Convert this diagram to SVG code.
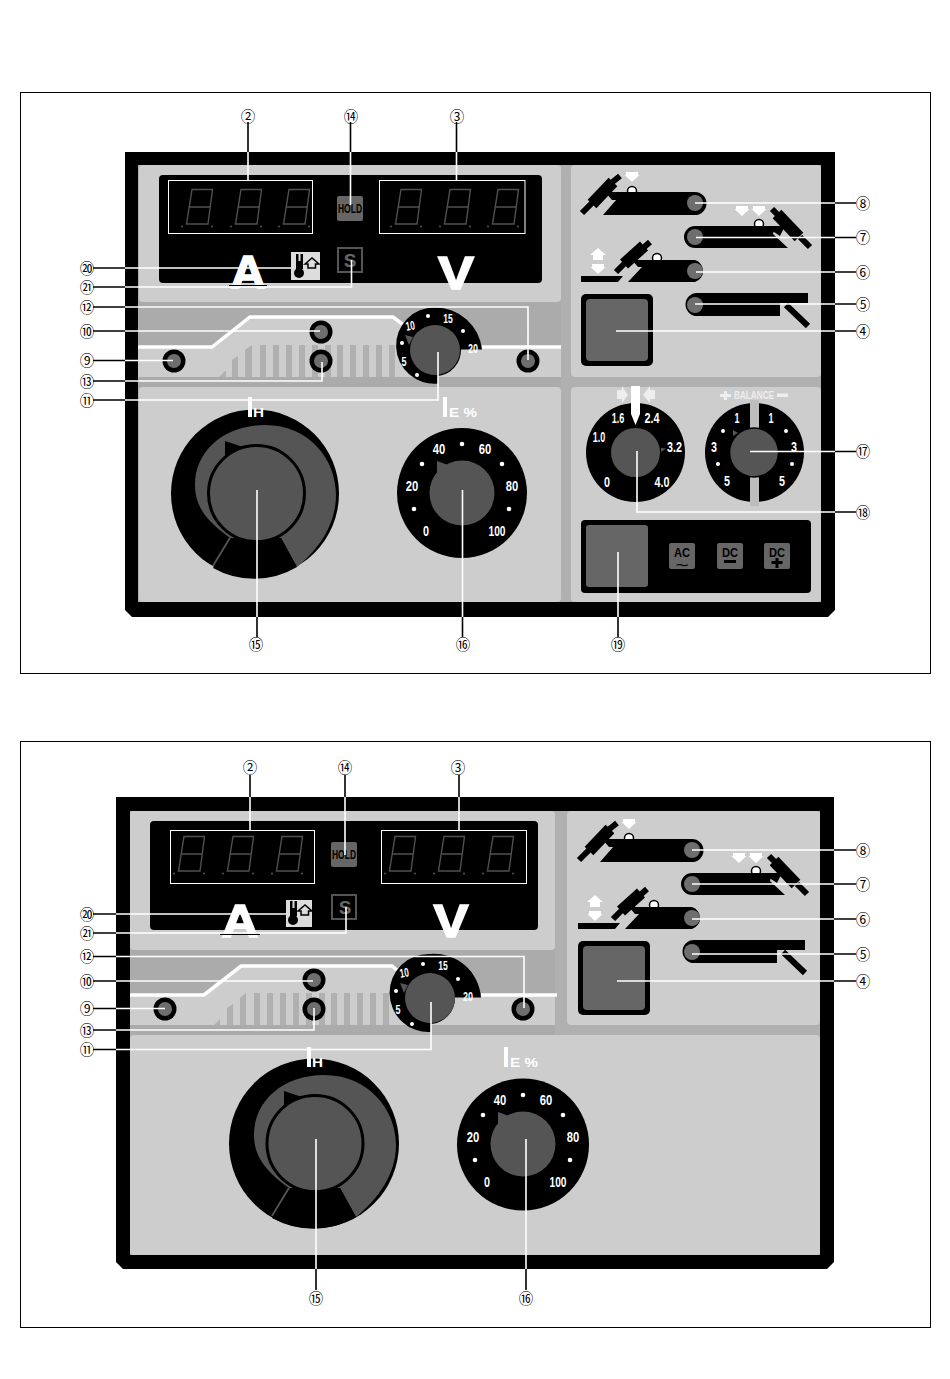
<svg xmlns="http://www.w3.org/2000/svg" xmlns:xlink="http://www.w3.org/1999/xlink" width="950" height="1379" viewBox="0 0 950 1379">
<style>
.frame{fill:none;stroke:#000;stroke-width:1}
.body{fill:#000}
.bg{fill:#b0b0b0}
.pan{fill:#cdcdcd}
.strip{fill:#ababab}
.bar{fill:#b0b0b0}
.wl{fill:none;stroke:#fff;stroke-width:3.5}
.wr{fill:#fff;stroke:none}
.dk{fill:#000}
.kn{fill:#555}
.btn{fill:#666}
.lamp{fill:#6e6e6e}
.dot{fill:#fff}
.w{stroke:#fff;stroke-width:1.6;fill:none}
.b{stroke:#000;stroke-width:1.6;fill:none}
.lab{font-family:"Noto Sans CJK JP","DejaVu Sans",sans-serif;font-size:14.5px;fill:#000;text-anchor:middle}
.d1{font-family:"Liberation Sans",sans-serif;font-weight:700;font-size:12.5px;fill:#fff;text-anchor:middle}
.d2{font-family:"Liberation Sans",sans-serif;font-weight:700;font-size:14px;fill:#fff;text-anchor:middle}
.big{font-family:"Liberation Sans",sans-serif;font-weight:700;font-size:47px;fill:#fff;stroke:#fff;stroke-width:1.6;text-anchor:middle}
.hold{font-family:"Liberation Sans",sans-serif;font-weight:700;font-size:13px;fill:#000;text-anchor:middle}
.s{font-family:"Liberation Sans",sans-serif;font-weight:700;font-size:19px;fill:#666;text-anchor:middle}
.mode{font-family:"Liberation Sans",sans-serif;font-weight:700;font-size:13.500px;fill:#000;text-anchor:middle}
.tld{font-family:"Liberation Sans",sans-serif;font-weight:700;font-size:11px;fill:#000;text-anchor:middle}
.ts{font-family:"Liberation Sans",sans-serif;font-weight:700;font-size:13px;fill:#fff}
.bal{font-family:"Liberation Sans",sans-serif;font-weight:700;font-size:11px;fill:#eee}
.dg{fill:none;stroke:#505050;stroke-width:1.4}
.box{fill:none;stroke:#fff;stroke-width:1}
.hair{stroke:#000;stroke-width:1;fill:none}
</style>
<defs>
<g id="digit"><path class="dg" d="M7,.5H27.5L23,35H1.5ZM4.500,18H25"/><circle cx="-3" cy="37.500" r="1" fill="#555"/><circle cx="27" cy="37.500" r="1" fill="#555"/></g>
<g id="tor-8">
<path class="dk" d="M613,192H695A11.500,11.500 0 0 1 695,215H603L617,199Z"/>
<path class="b" style="stroke-width:6" d="M582,213L593,202M610,184L620,176"/>
<path class="b" style="stroke-width:12" d="M592,204L613,182"/>
<path class="dk" d="M605,192H620V200H612Z"/>
</g>
<g id="tor-7">
<path class="dk" d="M695,226H775L773,234L788,248H695A11,11 0 0 1 695,226Z"/>
<path class="b" style="stroke-width:6" d="M810,247L800,237M779,216L772,209"/>
<path class="b" style="stroke-width:12" d="M799,237L777,214"/>
<path class="dk" d="M765,226H785L780,236Z"/>
</g>
<g id="tor-6">
<path class="dk" d="M640,260H695A11.500,11.500 0 0 1 695,282H628L642,267Z"/>
<path class="b" style="stroke-width:6" d="M616,272L626,262M642,249L650,242"/>
<path class="b" style="stroke-width:12" d="M624,264L644,246"/>
<path class="dk" d="M632,260H645V267H638ZM581,276H623L618,282H581Z"/>
</g>
<g id="tor-5">
<path class="dk" d="M697,293H808V303H780V316H697A11.500,11.500 0 0 1 697,293Z"/>
<path class="b" style="stroke-width:6" d="M786,305L808,326"/>
</g>
<path id="ar" d="M-6,0H6V3H7.500L0,10L-7.500,3H-6Z" fill="#fff"/>
</defs>

<rect class="frame" x="20.500" y="92.500" width="910" height="581"/>
<rect class="frame" x="20.500" y="741.500" width="910" height="586"/>

<g id="panel-top">
<path class="body" d="M125,152H835V610L828,617H132L125,610Z"/>
<rect class="bg" x="138" y="165" width="683" height="437"/>
<rect class="pan" x="139" y="165" width="422" height="137" rx="4"/>
<rect class="pan" x="571" y="165" width="250" height="212" rx="4"/>
<rect class="pan" x="139" y="387" width="422" height="215" rx="4"/>
<rect class="pan" x="571" y="387" width="250" height="215" rx="4"/>
<rect class="strip" x="138" y="302" width="423" height="85"/>
<path class="pan" d="M138,347H212L250,317H395L420,340V347H561V377H138Z"/>
<path class="bar" d="M219,377L226,370V377ZM232,377V360L238,356V377ZM245,377V350L252,345V377ZM260,345H266V377H260ZM273,345H279V377H273ZM286,345H292V377H286ZM299,345H305V377H299ZM312,345H318V377H312ZM325,345H331V377H325ZM337,345H343V377H337ZM350,345H356V377H350ZM363,345H369V377H363ZM376,345H382V377H376ZM389,345H395V377H389Z"/>
<path class="wl" d="M138,347H212L250,317H393L405,326M482,347H561"/>
</g>

<g id="display-top">
<rect class="dk" x="159" y="175" width="383" height="108" rx="4"/>
<rect class="box" x="168.500" y="180.500" width="144" height="53"/>
<rect class="box" x="379.500" y="180.500" width="145.500" height="53"/>
<use xlink:href="#digit" href="#digit" x="185" y="189"/><use xlink:href="#digit" href="#digit" x="234" y="189"/><use xlink:href="#digit" href="#digit" x="282" y="189"/>
<use xlink:href="#digit" href="#digit" x="394" y="189"/><use xlink:href="#digit" href="#digit" x="443" y="189"/><use xlink:href="#digit" href="#digit" x="491" y="189"/>
<text class="big" x="248" y="288" textLength="35" lengthAdjust="spacingAndGlyphs">A</text>
<text class="big" x="456" y="289" textLength="36" lengthAdjust="spacingAndGlyphs">V</text>
<path class="hair" d="M229,285.500H267"/>
</g>
<g id="hold-top"><rect class="btn" x="337" y="196" width="26" height="25" rx="2"/><text class="hold" x="350" y="213" textLength="24" lengthAdjust="spacingAndGlyphs">HOLD</text></g>
<g id="s-top"><rect x="338" y="248" width="24" height="24" fill="none" stroke="#555" stroke-width="2"/><text class="s" x="350" y="267">S</text></g>
<g id="therm-top"><rect x="291" y="252" width="29" height="28" fill="#ddd"/><circle class="dk" cx="299" cy="273" r="5"/><path class="dk" d="M296,254H303V269H296Z"/><path d="M298.500,254h2v7h-2z" fill="#ddd"/><path d="M305,264L312,258L319,264H315.500V268H308V264Z" fill="#ddd" stroke="#000" stroke-width="1.500"/></g>

<g id="led-9"><circle class="dk" cx="174" cy="361" r="11.500"/><circle class="lamp" cx="174" cy="361" r="7"/></g>
<g id="led-10"><circle class="dk" cx="321" cy="332" r="11.500"/><circle class="lamp" cx="321" cy="332" r="7"/></g>
<g id="led-13"><circle class="dk" cx="321" cy="361" r="11.500"/><circle class="lamp" cx="321" cy="361" r="7"/></g>
<g id="led-12"><circle class="dk" cx="528" cy="361" r="11.500"/><circle class="lamp" cx="528" cy="361" r="7"/></g>

<g id="dial-11">
<path class="dk" d="M482,349.500A47,47 0 0 0 435,307.500A38.100,38.100 0 1 0 438,383.500V376A26,26 0 0 0 461,349.500Z"/>
<path class="kn" d="M405,335L413,337L409,345Z"/>
<circle class="kn" cx="435" cy="350" r="25"/>
<text class="d1" x="411" y="330" textLength="9" lengthAdjust="spacingAndGlyphs" transform="rotate(-10 411 330)">10</text><text class="d1" x="448" y="323" textLength="9.500" lengthAdjust="spacingAndGlyphs">15</text><text class="d1" x="473" y="353" textLength="10" lengthAdjust="spacingAndGlyphs">20</text><text class="d1" x="404" y="366" textLength="5" lengthAdjust="spacingAndGlyphs">5</text>
<circle class="dot" cx="428" cy="316" r="2"/><circle class="dot" cx="463" cy="331" r="2"/><circle class="dot" cx="402" cy="343" r="2"/><circle class="dot" cx="417" cy="375" r="2"/>
</g>

<g id="dial-15">
<circle class="dk" cx="255" cy="493.500" r="84"/>
<path class="kn" d="M230,538C205,520 195,505 195,485C195,450 225,425 265,425C310,425 336,460 336,495C336,525 318,550 297,567L281,538Z"/>
<path class="dk" d="M225,441L246,448L225,458Z"/>
<path d="M230,538L213,566" stroke="#555" stroke-width="2" fill="none"/>
<circle class="kn" cx="256.500" cy="493.500" r="48" stroke="#000" stroke-width="3"/>
<path class="dk" d="M230,540L213,568A84,84 0 0 0 297,567L281,538A48,48 0 0 1 230,540Z"/>
<rect x="248" y="397" width="4" height="20" fill="#fff"/>
<text class="ts" x="253" y="417" textLength="11" lengthAdjust="spacingAndGlyphs">H</text>
</g>

<g id="dial-16">
<circle class="dk" cx="462" cy="493" r="65"/>
<path class="kn" d="M437,461L448,465L437,473Z"/>
<circle class="kn" cx="462" cy="493" r="32.500"/>
<text class="d2" x="439" y="454" textLength="12.500" lengthAdjust="spacingAndGlyphs">40</text><text class="d2" x="485" y="454" textLength="12.500" lengthAdjust="spacingAndGlyphs">60</text><text class="d2" x="412" y="491" textLength="12.500" lengthAdjust="spacingAndGlyphs">20</text><text class="d2" x="512" y="491" textLength="12.500" lengthAdjust="spacingAndGlyphs">80</text><text class="d2" x="426" y="536" textLength="6" lengthAdjust="spacingAndGlyphs">0</text><text class="d2" x="497" y="536" textLength="17" lengthAdjust="spacingAndGlyphs">100</text>
<circle class="dot" cx="462" cy="444" r="2.300"/><circle class="dot" cx="422" cy="464" r="2.300"/><circle class="dot" cx="502" cy="464" r="2.300"/><circle class="dot" cx="414" cy="509" r="2.300"/><circle class="dot" cx="509" cy="509" r="2.300"/>
<rect x="443" y="397" width="4" height="20" fill="#fff"/>
<text class="ts" x="449" y="417" textLength="28" lengthAdjust="spacingAndGlyphs">E %</text>
</g>

<g id="dial-18">
<circle class="dk" cx="635.500" cy="452.500" r="49.500"/>
<circle class="kn" cx="635.500" cy="452.500" r="24.500"/>
<path class="kn" d="M661,448L666,448.500L661,452Z"/>
<path class="wr" d="M631,386H640V414L635.500,425L631,414Z"/>
<path d="M617,390H622V386L628,395L622,403V399H617ZM655,390H650V386L643,395L650,403V399H655Z" fill="#eee"/>
<text class="d2" x="618" y="423" textLength="12.500" lengthAdjust="spacingAndGlyphs">1.6</text><text class="d2" x="652" y="423" textLength="15" lengthAdjust="spacingAndGlyphs">2.4</text><text class="d2" x="599" y="442" textLength="12.500" lengthAdjust="spacingAndGlyphs">1.0</text><text class="d2" x="674.500" y="452" textLength="15" lengthAdjust="spacingAndGlyphs">3.2</text><text class="d2" x="607" y="487" textLength="6" lengthAdjust="spacingAndGlyphs">0</text><text class="d2" x="662" y="487" textLength="15" lengthAdjust="spacingAndGlyphs">4.0</text>
</g>

<g id="dial-17">
<circle class="dk" cx="754.500" cy="452.500" r="49.500"/>
<rect x="750" y="400" width="9" height="106" fill="#bdbdbd"/>
<circle class="kn" cx="754" cy="452.500" r="24.500" stroke="#000" stroke-width="1.500"/>
<path class="kn" d="M733,430L738,433L733,436Z"/>
<text class="d2" x="737" y="423" textLength="5" lengthAdjust="spacingAndGlyphs">1</text><text class="d2" x="771" y="423" textLength="5" lengthAdjust="spacingAndGlyphs">1</text><text class="d2" x="714" y="452" textLength="6" lengthAdjust="spacingAndGlyphs">3</text><text class="d2" x="794" y="452" textLength="6" lengthAdjust="spacingAndGlyphs">3</text><text class="d2" x="727" y="486" textLength="6" lengthAdjust="spacingAndGlyphs">5</text><text class="d2" x="782" y="486" textLength="6" lengthAdjust="spacingAndGlyphs">5</text>
<circle class="dot" cx="723" cy="431" r="2"/><circle class="dot" cx="786" cy="431" r="2"/><circle class="dot" cx="718" cy="464" r="2"/><circle class="dot" cx="792" cy="464" r="2"/>
<path d="M724,391H727V394H731V397H727V400H724V397H720V394H724ZM777,393.500H788V397H777Z" fill="#eee"/>
<text class="bal" x="734" y="399" textLength="40" lengthAdjust="spacingAndGlyphs">BALANCE</text>
</g>

<g id="mode-19">
<rect class="dk" x="581" y="520" width="230" height="73" rx="4"/>
<rect class="btn" x="586" y="525" width="62" height="62" rx="3"/>
<rect class="btn" x="669" y="543" width="26" height="26" rx="2"/><text class="mode" x="682" y="557" textLength="16" lengthAdjust="spacingAndGlyphs">AC</text><text class="tld" x="682" y="569" textLength="13" lengthAdjust="spacingAndGlyphs">~</text>
<rect class="btn" x="717" y="543" width="26" height="26" rx="2"/><text class="mode" x="730" y="557" textLength="16" lengthAdjust="spacingAndGlyphs">DC</text><path class="dk" d="M724,560H736V563H724Z"/>
<rect class="btn" x="764" y="543" width="26" height="26" rx="2"/><text class="mode" x="777" y="557" textLength="16" lengthAdjust="spacingAndGlyphs">DC</text><path class="dk" d="M775.500,558H778.500V561H782.500V564H778.500V568H775.500V564H771.500V561H775.500Z"/>
</g>

<g id="sel-8"><use xlink:href="#tor-8" href="#tor-8"/><use xlink:href="#ar" href="#ar" x="632" y="172"/><circle cx="632" cy="191" r="4.500" fill="#fff" stroke="#000" stroke-width="1.500"/><rect class="dk" x="625" y="192" width="14" height="4"/><circle class="lamp" cx="695" cy="203" r="8"/></g>
<g id="sel-7"><use xlink:href="#tor-7" href="#tor-7"/><use xlink:href="#ar" href="#ar" x="742" y="206"/><use xlink:href="#ar" href="#ar" x="759" y="206"/><circle cx="759" cy="224" r="4.500" fill="#fff" stroke="#000" stroke-width="1.500"/><rect class="dk" x="752" y="226" width="14" height="4"/><circle class="lamp" cx="695" cy="237" r="8"/></g>
<g id="sel-6"><use xlink:href="#tor-6" href="#tor-6"/><path d="M598,248L606,255H603V260H593V255H590Z" fill="#fff"/><use xlink:href="#ar" href="#ar" x="598" y="264"/><circle cx="657" cy="258" r="4.500" fill="#fff" stroke="#000" stroke-width="1.500"/><rect class="dk" x="650" y="260" width="14" height="4"/><circle class="lamp" cx="695" cy="271" r="8"/></g>
<g id="sel-5"><use xlink:href="#tor-5" href="#tor-5"/><circle class="lamp" cx="695" cy="305" r="8"/></g>
<g id="btn-4"><rect class="dk" x="581" y="294" width="72" height="72" rx="5"/><rect class="btn" x="586" y="299" width="62" height="62" rx="4"/></g>

<g id="panel-bottom">
<path class="body" d="M116,797H834V1262L827,1269H123L116,1262Z"/>
<rect class="bg" x="130" y="811" width="690" height="444"/>
<rect class="pan" x="130" y="811" width="425" height="139" rx="4"/>
<rect class="pan" x="567" y="811" width="253" height="214" rx="4"/>
<rect class="strip" x="130" y="950" width="425" height="85"/>
<rect class="pan" x="130" y="1035" width="690" height="220" rx="4"/>
<path class="pan" d="M130,995H204L241,966H393L415,990V995H555V1025H130Z"/>
<path class="bar" d="M214,1025L220,1019V1025ZM227,1025V1008L233,1004V1025ZM240,1025V998L246,993V1025ZM254,993H260V1025H254ZM267,993H273V1025H267ZM280,993H286V1025H280ZM293,993H299V1025H293ZM306,993H312V1025H306ZM319,993H325V1025H319ZM331,993H337V1025H331ZM344,993H350V1025H344ZM357,993H363V1025H357ZM370,993H376V1025H370ZM383,993H389V1025H383Z"/>
<path class="wl" d="M130,995H204L241,966H392L403,975M481,995H557"/>
</g>

<g id="display-bottom">
<rect class="dk" x="150" y="821" width="388" height="109" rx="4"/>
<rect class="box" x="170.500" y="830.500" width="144" height="53"/>
<rect class="box" x="381.500" y="830.500" width="145" height="53"/>
<use xlink:href="#digit" href="#digit" x="177" y="836"/><use xlink:href="#digit" href="#digit" x="226" y="836"/><use xlink:href="#digit" href="#digit" x="275" y="836"/>
<use xlink:href="#digit" href="#digit" x="388" y="836"/><use xlink:href="#digit" href="#digit" x="437" y="836"/><use xlink:href="#digit" href="#digit" x="486" y="836"/>
<text class="big" x="240" y="937" textLength="37" lengthAdjust="spacingAndGlyphs">A</text>
<text class="big" x="451" y="936.500" textLength="35" lengthAdjust="spacingAndGlyphs">V</text>
<path class="hair" d="M220,934.500H260"/>
</g>
<g id="hold-bottom"><rect class="btn" x="331" y="842" width="26" height="25" rx="2"/><text class="hold" x="344" y="859" textLength="24" lengthAdjust="spacingAndGlyphs">HOLD</text></g>
<g id="s-bottom"><rect x="332" y="895" width="24" height="24" fill="none" stroke="#555" stroke-width="2"/><text class="s" x="345" y="914">S</text></g>
<g id="therm-bottom"><rect x="286" y="900" width="26" height="27" fill="#ddd"/><circle class="dk" cx="293" cy="920" r="5"/><path class="dk" d="M290,901H297V916H290Z"/><path d="M292.500,901h2v7h-2z" fill="#ddd"/><path d="M298,911L305,905L312,911H308.500V915H301V911Z" fill="#ddd" stroke="#000" stroke-width="1.500"/></g>

<g id="led-9b"><circle class="dk" cx="165" cy="1009" r="11.500"/><circle class="lamp" cx="165" cy="1009" r="7"/></g>
<g id="led-10b"><circle class="dk" cx="314" cy="980" r="11.500"/><circle class="lamp" cx="314" cy="980" r="7"/></g>
<g id="led-13b"><circle class="dk" cx="314" cy="1009" r="11.500"/><circle class="lamp" cx="314" cy="1009" r="7"/></g>
<g id="led-12b"><circle class="dk" cx="523" cy="1009" r="11.500"/><circle class="lamp" cx="523" cy="1009" r="7"/></g>

<g id="dial-11b" transform="translate(-5,648)">
<path class="dk" d="M486,349.500A47,47 0 0 0 435,306A39.050,39.050 0 1 0 436,384V376A26,26 0 0 0 460,349.500Z"/>
<path class="kn" d="M405,335L413,337L409,345Z"/>
<circle class="kn" cx="435" cy="350" r="25"/>
<text class="d1" x="410" y="329" textLength="9" lengthAdjust="spacingAndGlyphs" transform="rotate(-10 410 329)">10</text><text class="d1" x="448" y="322" textLength="9.500" lengthAdjust="spacingAndGlyphs">15</text><text class="d1" x="473" y="353" textLength="10" lengthAdjust="spacingAndGlyphs">20</text><text class="d1" x="403" y="366" textLength="5" lengthAdjust="spacingAndGlyphs">5</text>
<circle class="dot" cx="428" cy="316" r="2"/><circle class="dot" cx="463" cy="331" r="2"/><circle class="dot" cx="401" cy="343" r="2"/><circle class="dot" cx="417" cy="376" r="2"/>
</g>

<g id="dial-15b" transform="translate(59,650)">
<circle class="dk" cx="255" cy="493.500" r="85"/>
<path class="kn" d="M230,538C205,520 195,505 195,485C195,450 225,425 265,425C310,425 337,460 337,495C337,525 318,550 297,567L281,538Z"/>
<path class="dk" d="M225,441L246,448L225,458Z"/>
<path d="M230,538L213,566" stroke="#555" stroke-width="2" fill="none"/>
<circle class="kn" cx="256" cy="493.500" r="48" stroke="#000" stroke-width="3"/>
<path class="dk" d="M230,540L213,568A85,85 0 0 0 297,567L281,538A48,48 0 0 1 230,540Z"/>
<rect x="248" y="397" width="4" height="20" fill="#fff"/>
<text class="ts" x="253" y="417" textLength="11" lengthAdjust="spacingAndGlyphs">H</text>
</g>

<g id="dial-16b" transform="translate(61,651)">
<circle class="dk" cx="462" cy="493.500" r="66"/>
<path class="kn" d="M437,461L448,465L437,473Z"/>
<circle class="kn" cx="462" cy="493" r="32.500"/>
<text class="d2" x="439" y="454" textLength="12.500" lengthAdjust="spacingAndGlyphs">40</text><text class="d2" x="485" y="454" textLength="12.500" lengthAdjust="spacingAndGlyphs">60</text><text class="d2" x="412" y="491" textLength="12.500" lengthAdjust="spacingAndGlyphs">20</text><text class="d2" x="512" y="491" textLength="12.500" lengthAdjust="spacingAndGlyphs">80</text><text class="d2" x="426" y="536" textLength="6" lengthAdjust="spacingAndGlyphs">0</text><text class="d2" x="497" y="536" textLength="17" lengthAdjust="spacingAndGlyphs">100</text>
<circle class="dot" cx="462" cy="444" r="2.300"/><circle class="dot" cx="422" cy="464" r="2.300"/><circle class="dot" cx="502" cy="464" r="2.300"/><circle class="dot" cx="414" cy="509" r="2.300"/><circle class="dot" cx="509" cy="509" r="2.300"/>
<rect x="443" y="396" width="4" height="20" fill="#fff"/>
<text class="ts" x="449" y="416" textLength="28" lengthAdjust="spacingAndGlyphs">E %</text>
</g>

<g id="sel-8b" transform="translate(-3,647)"><use xlink:href="#tor-8" href="#tor-8"/><use xlink:href="#ar" href="#ar" x="632" y="172"/><circle cx="632" cy="191" r="4.500" fill="#fff" stroke="#000" stroke-width="1.500"/><rect class="dk" x="625" y="192" width="14" height="4"/><circle class="lamp" cx="695" cy="203" r="8"/></g>
<g id="sel-7b" transform="translate(-3,647)"><use xlink:href="#tor-7" href="#tor-7"/><use xlink:href="#ar" href="#ar" x="742" y="206"/><use xlink:href="#ar" href="#ar" x="759" y="206"/><circle cx="759" cy="224" r="4.500" fill="#fff" stroke="#000" stroke-width="1.500"/><rect class="dk" x="752" y="226" width="14" height="4"/><circle class="lamp" cx="695" cy="237" r="8"/></g>
<g id="sel-6b" transform="translate(-3,647)"><use xlink:href="#tor-6" href="#tor-6"/><path d="M598,248L606,255H603V260H593V255H590Z" fill="#fff"/><use xlink:href="#ar" href="#ar" x="598" y="264"/><circle cx="657" cy="258" r="4.500" fill="#fff" stroke="#000" stroke-width="1.500"/><rect class="dk" x="650" y="260" width="14" height="4"/><circle class="lamp" cx="695" cy="271" r="8"/></g>
<g id="sel-5b" transform="translate(-3,647)"><use xlink:href="#tor-5" href="#tor-5"/><circle class="lamp" cx="695" cy="305" r="8"/></g>
<g id="btn-4b" transform="translate(-3,647)"><rect class="dk" x="581" y="294" width="72" height="74" rx="5"/><rect class="btn" x="586" y="299" width="62" height="64" rx="4"/></g>

<g id="connectors">
<path class="b" d="M248,122V152M350.500,122V152M456.500,122V152M93,268H125M93,287H125M93,307H125M93,331H125M93,360.500H125M93,381H125M93,400H125M835,203H856M835,237.500H856M835,272H856M835,304H856M835,331H856M835,451.500H856M835,512H856M257,617V637M462.500,617V637M618,617V637"/>
<path class="w" d="M248,152V180M350.500,152V205M456.500,152V180M125,268H291M125,287H351.500V260M125,307H528V360M125,331H320M125,360.500H173M125,381H322V362M125,400H438V352M695,203H835M696,237.500H835M696,272H835M695,304H835M616,331H835M750,451.500H835M835,512H637V451M257,490V617M462.500,490V617M618,552V617"/>
<path class="b" d="M250,775V797M345,775V797M459,775V797M93,914H116M93,933H116M93,956.500H116M93,981H116M93,1008.500H116M93,1030H116M93,1049.500H116M834,850H856M834,884H856M834,919H856M834,954H856M834,981H856M316,1269V1290M526,1269V1290"/>
<path class="w" d="M250,797V830M345,797V855M459,797V830M116,914H286M116,933H346V907M116,956.500H524V1008M116,981H313M116,1008.500H165M116,1030H314V1008M116,1049.500H431V1002M692,850H834M692,884H834M692,919H834M692,954H834M617,981H834M316,1139V1269M526,1139V1269"/>
</g>

<g id="labels">
<text class="lab" x="248" y="122">②</text><text class="lab" x="351" y="122">⑭</text><text class="lab" x="457" y="122">③</text>
<text class="lab" x="87" y="274">⑳</text><text class="lab" x="87" y="293">㉑</text><text class="lab" x="87" y="313">⑫</text><text class="lab" x="87" y="337">⑩</text><text class="lab" x="87" y="366">⑨</text><text class="lab" x="87" y="387">⑬</text><text class="lab" x="87" y="406">⑪</text>
<text class="lab" x="863" y="209">⑧</text><text class="lab" x="863" y="243">⑦</text><text class="lab" x="863" y="278">⑥</text><text class="lab" x="863" y="310">⑤</text><text class="lab" x="863" y="337">④</text><text class="lab" x="863" y="457">⑰</text><text class="lab" x="863" y="518">⑱</text>
<text class="lab" x="256" y="650">⑮</text><text class="lab" x="463" y="650">⑯</text><text class="lab" x="618" y="650">⑲</text>
<text class="lab" x="250" y="773">②</text><text class="lab" x="345" y="773">⑭</text><text class="lab" x="458" y="773">③</text>
<text class="lab" x="87" y="920">⑳</text><text class="lab" x="87" y="939">㉑</text><text class="lab" x="87" y="962">⑫</text><text class="lab" x="87" y="987">⑩</text><text class="lab" x="87" y="1014">⑨</text><text class="lab" x="87" y="1036">⑬</text><text class="lab" x="87" y="1055">⑪</text>
<text class="lab" x="863" y="856">⑧</text><text class="lab" x="863" y="890">⑦</text><text class="lab" x="863" y="925">⑥</text><text class="lab" x="863" y="960">⑤</text><text class="lab" x="863" y="987">④</text>
<text class="lab" x="316" y="1304">⑮</text><text class="lab" x="526" y="1304">⑯</text>
</g>
</svg>
